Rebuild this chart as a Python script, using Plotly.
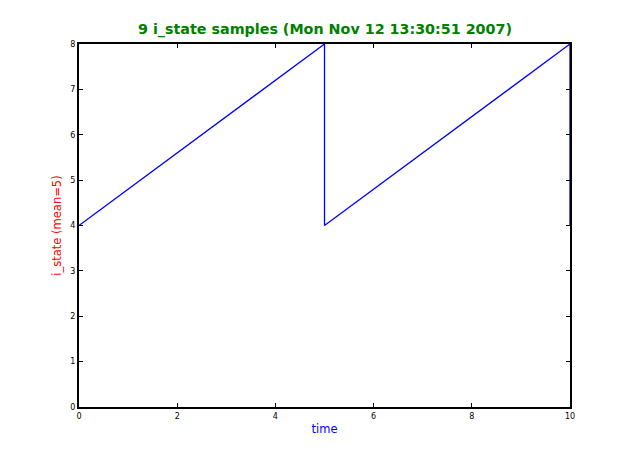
import plotly.graph_objects as go

time = [0, 5, 5, 10, 10]
i_state = [4, 8, 4, 8, 4]
x_ticks = [0, 2, 4, 6, 8, 10]
y_ticks = [0, 1, 2, 3, 4, 5, 6, 7, 8]

W, H = 617, 437

fig = go.Figure()
fig.add_trace(go.Scatter(x=time, y=i_state, mode="lines",
                         line=dict(color="#0000ff", width=1.3), showlegend=False,
                         cliponaxis=False))

axis_common = dict(showgrid=False, zeroline=False, ticks="inside", ticklen=4,
                   tickwidth=1, tickcolor="black", showline=True, linecolor="black",
                   linewidth=2, mirror="ticks", layer="below traces",
                   tickfont=dict(family="DejaVu Sans", size=8, color="black"))

fig.update_layout(
    width=W, height=H,
    paper_bgcolor="white", plot_bgcolor="white",
    margin=dict(l=71, r=55, t=36, b=38),
    font=dict(family="DejaVu Sans"),
    title=dict(text="<b>9 i_state samples (Mon Nov 12 13:30:51 2007)</b>",
               x=(325 - 8) / W, xanchor="center", y=1 - 21 / H, yanchor="middle",
               font=dict(family="DejaVu Sans", size=14.3, color="#008000")),
    xaxis=dict(range=[0, 10], tickvals=x_ticks,
               title=dict(text="time", font=dict(size=11.5, color="#0000ff"), standoff=5),
               **axis_common),
    yaxis=dict(range=[0, 8], tickvals=y_ticks,
               title=dict(text="i_state (mean=5)", font=dict(size=11.5, color="#ff0000"), standoff=6),
               **axis_common),
)

fig.write_html("out.html")
